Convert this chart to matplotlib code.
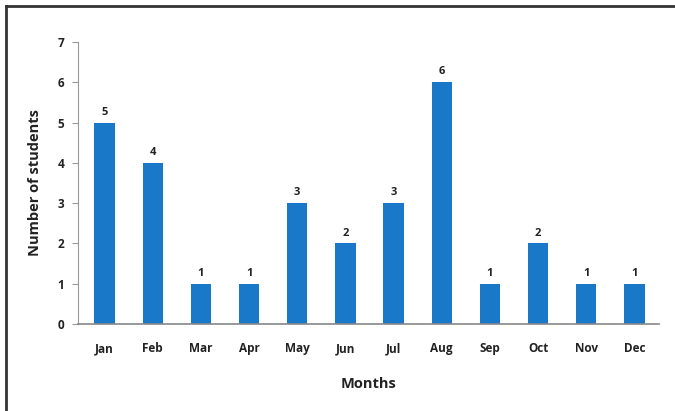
import matplotlib.pyplot as plt
import matplotlib.lines as mlines

months = ['Jan', 'Feb', 'Mar', 'Apr', 'May', 'Jun', 'Jul', 'Aug', 'Sep', 'Oct', 'Nov', 'Dec']
students = [5, 4, 1, 1, 3, 2, 3, 6, 1, 2, 1, 1]

plt.rcParams['font.family'] = ['Open Sans', 'DejaVu Sans']

fig = plt.figure(figsize=(6.75, 4.11), dpi=100)
ax = fig.add_axes([0.1156, 0.2117, 0.86, 0.6863])

x = range(len(months))
ax.bar(x, students, width=0.42, color='#1a78c8', zorder=2)
for xi, v in zip(x, students):
    ax.text(xi, v + 0.12, str(v), ha='center', va='bottom',
            fontsize=8, fontweight='bold', color='#222222')

ax.set_xlim(-0.55, 11.5)
ax.set_ylim(0, 7)
ax.set_xticks(list(x))
ax.set_xticklabels(months)
ax.set_yticks(range(8))

for s in ['top', 'right']:
    ax.spines[s].set_visible(False)
ax.spines['left'].set_color('#999999')
ax.spines['bottom'].set_color('#888888')
ax.spines['bottom'].set_linewidth(1.2)
ax.tick_params(axis='x', length=0, pad=13, labelsize=8.5, labelcolor='#222222')
ax.tick_params(axis='y', length=4, color='#999999', pad=6, labelsize=8.5, labelcolor='#222222')
for lbl in ax.get_xticklabels() + ax.get_yticklabels():
    lbl.set_fontweight('bold')

ax.set_xlabel('Months', fontsize=10.5, fontweight='bold', color='#222222', labelpad=16)
ax.set_ylabel('Number of students', fontsize=10.5, fontweight='bold', color='#222222', labelpad=11)

# outer frame: left and top edges only
fig.add_artist(mlines.Line2D([0.009, 0.009], [0, 0.985], color='#333333', lw=2))
fig.add_artist(mlines.Line2D([0.009, 1.0], [0.985, 0.985], color='#333333', lw=2))

plt.savefig('out.png', dpi=100)
